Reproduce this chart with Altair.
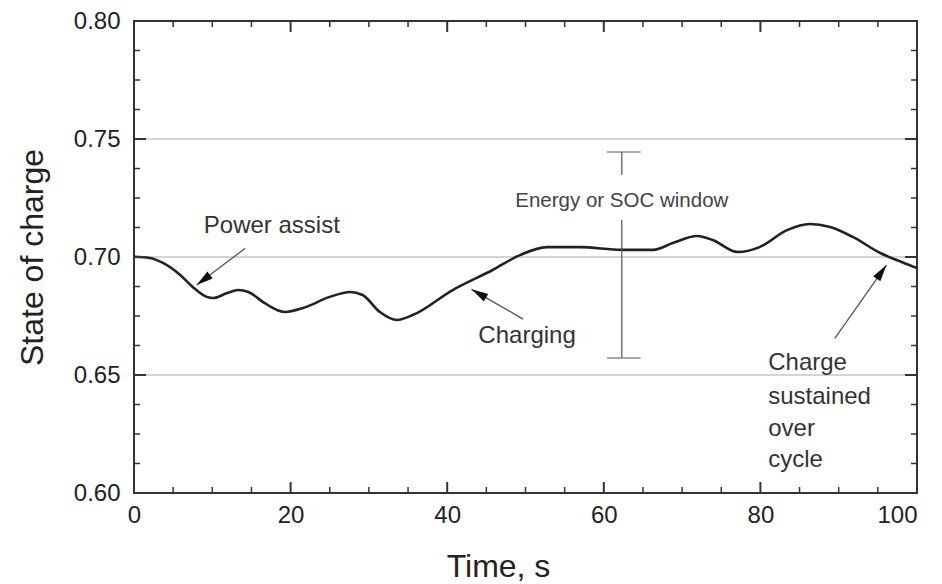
import altair as alt
import pandas as pd

# ---- data ----
time_s = [0, 2.0, 3.7, 5.9, 7.5, 9.3, 10.1, 11.9, 13.3, 14.6, 16.5, 18.3, 19.3, 21.6, 25.0,
          27.6, 29.2, 31.4, 33.6, 35.6, 40.7, 45.8, 49.3, 52.7, 57.0, 62.3, 66.3, 68.8,
          71.9, 73.9, 77.1, 79.9, 83.4, 86.3, 88.9, 91.8, 95.3, 97.4, 100]
soc = [0.7001, 0.6996, 0.6975, 0.6924, 0.6873, 0.6831, 0.6826, 0.6847, 0.6860, 0.6852,
       0.6809, 0.6775, 0.6767, 0.6784, 0.6831, 0.6852, 0.6839, 0.6767, 0.6733, 0.6754,
       0.6860, 0.6945, 0.7008, 0.7042, 0.7042, 0.7030, 0.7030, 0.7059, 0.7089, 0.7072,
       0.7021, 0.7042, 0.7114, 0.7140, 0.7127, 0.7085, 0.7017, 0.6987, 0.6953]

x_labels = [0, 20, 40, 60, 80, 100]
y_labels = [0.60, 0.65, 0.70, 0.75, 0.80]
x_major = [20, 40, 60, 80]
x_minor = [5, 10, 15, 25, 30, 35, 45, 50, 55, 65, 70, 75, 85, 90, 95]
y_major = [0.65, 0.70, 0.75]
y_minor = [0.6125, 0.625, 0.6375, 0.6625, 0.675, 0.6875, 0.7125, 0.725, 0.7375,
           0.7625, 0.775, 0.7875]
grid_vals = [0.65, 0.70, 0.75]

# centred annotations
ann_c_text = ["Power assist", "Charging"]
ann_c_t = [17.6, 50.2]
ann_c_v = [0.7102, 0.6636]
# left-aligned annotation lines
ann_l_text = ["Charge", "sustained", "over", "cycle"]
ann_l_t = [81.0, 81.0, 81.0, 81.0]
ann_l_v = [0.6521, 0.6377, 0.6242, 0.6110]

window_label = "Energy or SOC window"
window_t = 62.3
window_label_v = 0.7212
window_top = [0.7445, 0.7347]
window_bottom = [0.7157, 0.6572]
window_cap_t = [60.4, 64.7]

arrow_start_t = [14.2, 49.7, 89.5]
arrow_start_v = [0.7037, 0.6737, 0.6655]
arrow_tip_t = [8.0, 43.1, 96.1]
arrow_tip_v = [0.6881, 0.6863, 0.6966]
arrow_angle = [232.8, 299.9, 35.2]

W, H = 783, 472
FONT = "Liberation Sans"
xs = alt.Scale(domain=[0, 100], nice=False, zero=False)
ys = alt.Scale(domain=[0.60, 0.80], nice=False, zero=False)

curve_df = pd.DataFrame({"t": time_s, "soc": soc})
grid_df = pd.DataFrame({"v": grid_vals})
xmaj_df = pd.DataFrame({"t": x_major})
xmin_df = pd.DataFrame({"t": x_minor})
ymaj_df = pd.DataFrame({"v": y_major})
ymin_df = pd.DataFrame({"v": y_minor})
ann_c_df = pd.DataFrame({"text": ann_c_text, "t": ann_c_t, "v": ann_c_v})
ann_l_df = pd.DataFrame({"text": ann_l_text, "t": ann_l_t, "v": ann_l_v})
arrow_df = pd.DataFrame({"t": arrow_start_t, "v": arrow_start_v, "t2": arrow_tip_t,
                         "v2": arrow_tip_v, "angle": arrow_angle})
win_seg_df = pd.DataFrame({"t": [window_t, window_t],
                           "v": [window_top[0], window_bottom[0]],
                           "v2": [window_top[1], window_bottom[1]]})
win_cap_df = pd.DataFrame({"t": [window_cap_t[0]] * 2, "t2": [window_cap_t[1]] * 2,
                           "v": [window_top[0], window_bottom[1]]})
win_lab_df = pd.DataFrame({"t": [window_t], "v": [window_label_v], "text": [window_label]})

line = alt.Chart(curve_df).mark_line(color="#222222", strokeWidth=2.6,
                                     interpolate="monotone").encode(
    x=alt.X("t:Q", scale=xs, title="Time, s",
            axis=alt.Axis(values=x_labels, format="d", ticks=False, grid=False,
                          domain=False, labelPadding=10, labelFontSize=24,
                          labelFlush=False,
                          labelAlign={"condition": {"test": "datum.value >= 100",
                                                    "value": "right"},
                                      "value": "center"},
                          labelColor="#222222", labelFont=FONT, titleFont=FONT,
                          titleFontSize=32, titleFontWeight="normal", titleColor="#222222",
                          titleX=364, titleY=83, titleBaseline="alphabetic",
                          titleAlign="center")),
    y=alt.Y("soc:Q", scale=ys, title="State of charge",
            axis=alt.Axis(values=y_labels, format=".2f", ticks=False, grid=False,
                          domain=False, labelPadding=14, labelFontSize=24,
                          labelColor="#222222", labelFont=FONT, titleFont=FONT,
                          titleFontSize=32, titleFontWeight="normal", titleColor="#222222",
                          titleX=-92, titleY=H / 2, titleAngle=270,
                          titleBaseline="alphabetic", titleAlign="center")),
)

grid = alt.Chart(grid_df).mark_rule(color="#aaaaaa", strokeWidth=1).encode(
    y=alt.Y("v:Q", scale=ys, axis=None))


def xticks(df, length, width):
    bot = alt.Chart(df).mark_rule(color="#333333", strokeWidth=width).encode(
        x=alt.X("t:Q", scale=xs, axis=None), y=alt.value(H), y2=alt.value(H - length))
    top = alt.Chart(df).mark_rule(color="#333333", strokeWidth=width).encode(
        x=alt.X("t:Q", scale=xs, axis=None), y=alt.value(0), y2=alt.value(length))
    return [bot, top]


def yticks(df, length, width):
    left = alt.Chart(df).mark_rule(color="#333333", strokeWidth=width).encode(
        y=alt.Y("v:Q", scale=ys, axis=None), x=alt.value(0), x2=alt.value(length))
    right = alt.Chart(df).mark_rule(color="#333333", strokeWidth=width).encode(
        y=alt.Y("v:Q", scale=ys, axis=None), x=alt.value(W), x2=alt.value(W - length))
    return [left, right]


tick_layers = (xticks(xmaj_df, 11, 2) + xticks(xmin_df, 6, 1.5)
               + yticks(ymaj_df, 12, 2) + yticks(ymin_df, 6, 1.5))

ann_c = alt.Chart(ann_c_df).mark_text(fontSize=24, font=FONT, color="#333333",
                                      baseline="alphabetic", align="center").encode(
    x=alt.X("t:Q", scale=xs, axis=None), y=alt.Y("v:Q", scale=ys, axis=None), text="text:N")
ann_l = alt.Chart(ann_l_df).mark_text(fontSize=24, font=FONT, color="#333333",
                                      baseline="alphabetic", align="left").encode(
    x=alt.X("t:Q", scale=xs, axis=None), y=alt.Y("v:Q", scale=ys, axis=None), text="text:N")

win_seg = alt.Chart(win_seg_df).mark_rule(color="#555555", strokeWidth=1.2).encode(
    x=alt.X("t:Q", scale=xs, axis=None), y=alt.Y("v:Q", scale=ys, axis=None), y2="v2:Q")
win_cap = alt.Chart(win_cap_df).mark_rule(color="#555555", strokeWidth=1.2).encode(
    x=alt.X("t:Q", scale=xs, axis=None), x2="t2:Q", y=alt.Y("v:Q", scale=ys, axis=None))
win_lab = alt.Chart(win_lab_df).mark_text(fontSize=20.5, font=FONT, color="#444444",
                                          baseline="alphabetic", align="center").encode(
    x=alt.X("t:Q", scale=xs, axis=None), y=alt.Y("v:Q", scale=ys, axis=None), text="text:N")

arrow_line = alt.Chart(arrow_df).mark_rule(color="#555555", strokeWidth=1.3).encode(
    x=alt.X("t:Q", scale=xs, axis=None), y=alt.Y("v:Q", scale=ys, axis=None),
    x2="t2:Q", y2="v2:Q")
arrow_head = alt.Chart(arrow_df).mark_point(
    shape="M0,0L-0.55,2.1L0.55,2.1Z", filled=True, color="#111111", size=256, opacity=1
).encode(
    x=alt.X("t2:Q", scale=xs, axis=None), y=alt.Y("v2:Q", scale=ys, axis=None),
    angle=alt.Angle("angle:Q", scale=None))

chart = alt.layer(grid, line, *tick_layers, win_seg, win_cap, win_lab, arrow_line,
                  arrow_head, ann_c, ann_l).resolve_axis(
    x="independent", y="independent"
).properties(
    width=W, height=H,
    background="white",
    autosize=alt.AutoSizeParams(type="none"),
    padding={"left": 126, "top": 13, "right": 17, "bottom": 90},
).configure_view(stroke="#333333", strokeWidth=2)

chart.save("out.html", embed_options={"renderer": "svg", "actions": False})
